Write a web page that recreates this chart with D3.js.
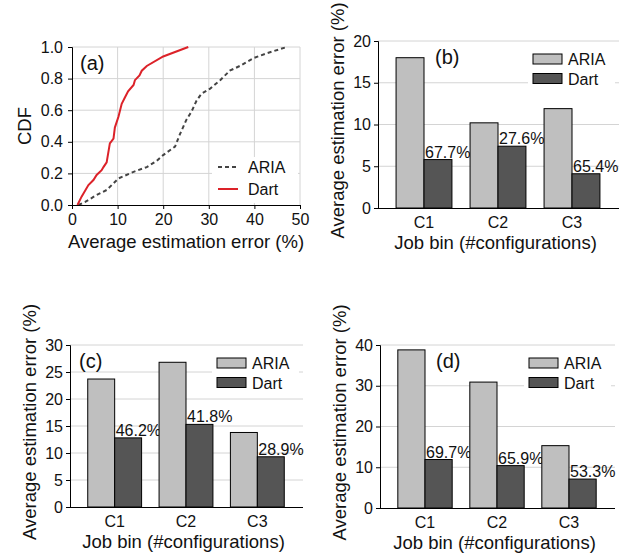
<!DOCTYPE html>
<html>
<head>
<meta charset="utf-8">
<script src="https://cdn.jsdelivr.net/npm/d3@7"></script>
<style>
  body { margin: 0; background: #fff; }
  svg text { font-family: "Liberation Sans", Arial, sans-serif; fill: #111; }
</style>
</head>
<body>
<div id="chart"></div>
<script>
// panel (a): CDF curves, [error %, cumulative fraction]
const ariaCdf = [
  [1.4, 0], [2.9, 0.02], [5.4, 0.063], [7.6, 0.095], [8.7, 0.126], [10.2, 0.168],
  [13.5, 0.21], [16.4, 0.24], [18.6, 0.28], [20, 0.316], [22.6, 0.37], [23.7, 0.45],
  [25.1, 0.54], [26.2, 0.59], [27.3, 0.66], [28.4, 0.705], [30.3, 0.737], [32.5, 0.79],
  [34.6, 0.85], [36.8, 0.88], [39.8, 0.93], [42.7, 0.96], [47.1, 1.0]
];
const dartCdf = [
  [1.2, 0], [2.1, 0.053], [3.6, 0.126], [4.7, 0.158], [5.4, 0.19], [6.5, 0.22],
  [6.9, 0.24], [7.6, 0.27], [8.3, 0.39], [9.1, 0.42], [9.4, 0.49], [10.2, 0.56],
  [10.9, 0.64], [11.6, 0.68], [12.3, 0.72], [13.5, 0.76], [13.8, 0.79], [14.8, 0.82],
  [15.3, 0.85], [16.4, 0.88], [20, 0.94], [25.5, 1.0]
];
const cdfXTicks = [0, 10, 20, 30, 40, 50];
const cdfYTicks = [0, 0.2, 0.4, 0.6, 0.8, 1.0];

// panels (b)-(d): job bins
const bins = ["C1", "C2", "C3"];
const series = ["ARIA", "Dart"];
const ariaB = [18.0, 10.2, 11.9];
const dartB = [5.8, 7.4, 4.1];
const pctB = ["67.7%", "27.6%", "65.4%"];
const ariaC = [23.7, 26.8, 13.8];
const dartC = [12.8, 15.3, 9.3];
const pctC = ["46.2%", "41.8%", "28.9%"];
const ariaD = [38.8, 30.9, 15.3];
const dartD = [11.9, 10.4, 7.1];
const pctD = ["69.7%", "65.9%", "53.3%"];

const svg = d3.select("#chart").append("svg")
    .attr("width", 621)
    .attr("height", 559);

const gridColor = "#d4d4d4";
const colors = { ARIA: "#bfbfbf", Dart: "#555555" };

// ---------- panel (a) ----------
{
  const left = 72, top = 47, w = 228, h = 158;
  const g = svg.append("g").attr("transform", `translate(${left},${top})`);
  const x = d3.scaleLinear().domain([0, 50]).range([0, w]);
  const y = d3.scaleLinear().domain([0, 1]).range([h, 0]);

  // grid
  g.selectAll("line.vg").data(cdfXTicks.slice(1)).enter().append("line")
      .attr("x1", d => x(d)).attr("x2", d => x(d))
      .attr("y1", 0).attr("y2", h)
      .style("stroke", gridColor);
  g.selectAll("line.hg").data(cdfYTicks.slice(1)).enter().append("line")
      .attr("x1", 0).attr("x2", w)
      .attr("y1", d => y(d)).attr("y2", d => y(d))
      .style("stroke", gridColor);

  // legend box hides grid
  g.append("rect").attr("x", w - 88).attr("y", h - 48)
      .attr("width", 86).attr("height", 46).attr("fill", "#fff");

  const line = d3.line().x(d => x(d[0])).y(d => y(d[1]));
  g.append("path").datum(ariaCdf).attr("d", line)
      .attr("fill", "none").attr("stroke", "#444").attr("stroke-width", 2)
      .attr("stroke-dasharray", "4,3");
  g.append("path").datum(dartCdf).attr("d", line)
      .attr("fill", "none").attr("stroke", "#dc2229").attr("stroke-width", 2);

  const xAxis = g.append("g").attr("transform", `translate(0,${h})`)
      .call(d3.axisBottom(x).tickValues(cdfXTicks).tickSize(4).tickPadding(5).tickFormat(d3.format("d")));
  const yAxis = g.append("g")
      .call(d3.axisLeft(y).tickValues(cdfYTicks).tickSize(4).tickPadding(5).tickFormat(d3.format(".1f")));
  [xAxis, yAxis].forEach(a => {
    a.select(".domain").attr("stroke", "#000");
    a.selectAll(".tick line").attr("stroke", "#000");
    a.selectAll("text").style("font-size", "16px").attr("fill", "#111");
  });

  g.append("text").attr("x", 8).attr("y", 23).style("font-size", "20px").text("(a)");

  // legend
  const lg = g.append("g").attr("transform", `translate(${w - 82},${h - 38})`);
  lg.append("line").attr("x1", 0).attr("x2", 20).attr("y1", 0).attr("y2", 0)
      .attr("stroke", "#444").attr("stroke-width", 2).attr("stroke-dasharray", "4,3");
  lg.append("text").attr("x", 30).attr("y", 6).style("font-size", "16px").text("ARIA");
  lg.append("line").attr("x1", 0).attr("x2", 20).attr("y1", 22).attr("y2", 22)
      .attr("stroke", "#dc2229").attr("stroke-width", 2);
  lg.append("text").attr("x", 30).attr("y", 28).style("font-size", "16px").text("Dart");

  svg.append("text").attr("transform", `translate(31,${top + h / 2}) rotate(-90)`)
      .attr("text-anchor", "middle").style("font-size", "18.5px").text("CDF");
  svg.append("text").attr("x", left + w / 2 - 0).attr("y", 248)
      .attr("text-anchor", "middle").style("font-size", "18.5px")
      .text("Average estimation error (%)");
}

// ---------- bar panels ----------
function barPanel(opt) {
  const { left, top, w, h, ymax, step, aria, dart, pct, tag, tagX, yLabelX } = opt;
  const g = svg.append("g").attr("transform", `translate(${left},${top})`);
  const x = d3.scaleBand().domain(bins).range([9, w - 10]).paddingInner(0.245).paddingOuter(0.1225);
  const xs = d3.scaleBand().domain(series).range([0, x.bandwidth()]);
  const y = d3.scaleLinear().domain([0, ymax]).range([h, 0]);
  const yTicks = d3.range(0, ymax + 0.001, step);

  g.selectAll("line.hg").data(yTicks.slice(1)).enter().append("line")
      .attr("x1", 0).attr("x2", w)
      .attr("y1", d => y(d)).attr("y2", d => y(d))
      .style("stroke", gridColor);

  // legend box hides grid
  g.append("rect").attr("x", w - 91).attr("y", 8)
      .attr("width", 87).attr("height", 40).attr("fill", "#fff");

  const rows = bins.map((b, i) => ({ bin: b, ARIA: aria[i], Dart: dart[i], pct: pct[i] }));
  const grp = g.selectAll("g.bin").data(rows).enter().append("g")
      .attr("transform", d => `translate(${x(d.bin)},0)`);
  grp.selectAll("rect").data(d => series.map(s => ({ s, v: d[s] }))).enter().append("rect")
      .attr("x", d => xs(d.s))
      .attr("y", d => y(d.v))
      .attr("width", xs.bandwidth())
      .attr("height", d => h - y(d.v))
      .attr("fill", d => colors[d.s])
      .attr("stroke", "#000").attr("stroke-width", 1);
  grp.append("text")
      .attr("x", xs("Dart") + 1)
      .attr("y", d => y(d.Dart) - 2)
      .style("font-size", "16px")
      .text(d => d.pct);

  const xAxis = g.append("g").attr("transform", `translate(0,${h})`)
      .call(d3.axisBottom(x).tickSize(0).tickPadding(9));
  xAxis.select(".domain").attr("d", `M0,0.5H${w}`).attr("stroke", "#000");
  const yAxis = g.append("g")
      .call(d3.axisLeft(y).tickValues(yTicks).tickSize(4).tickPadding(3).tickFormat(d3.format("d")));
  yAxis.select(".domain").attr("stroke", "#000");
  yAxis.selectAll(".tick line").attr("stroke", "#000");
  [xAxis, yAxis].forEach(a => a.selectAll("text").style("font-size", "16px").attr("fill", "#111"));

  g.append("text").attr("x", tagX).attr("y", 23).style("font-size", "20px").text(tag);

  const lg = g.append("g").attr("transform", `translate(${w - 86},13)`);
  series.forEach((s, i) => {
    lg.append("rect").attr("x", 0).attr("y", i * 19.5).attr("width", 29).attr("height", 10)
        .attr("fill", colors[s]).attr("stroke", "#000").attr("stroke-width", 1);
    lg.append("text").attr("x", 35).attr("y", i * 19.5 + 11).style("font-size", "16px").text(s);
  });

  svg.append("text").attr("transform", `translate(${yLabelX},${top + h / 2 - 4}) rotate(-90)`)
      .attr("text-anchor", "middle").style("font-size", "18.5px")
      .text("Average estimation error (%)");
  svg.append("text").attr("x", left + w / 2 - 3).attr("y", top + h + 41)
      .attr("text-anchor", "middle").style("font-size", "18.5px")
      .text("Job bin (#configurations)");
}

barPanel({ left: 378, top: 41, w: 241, h: 167, ymax: 20, step: 5,
  aria: ariaB, dart: dartB, pct: pctB, tag: "(b)", tagX: 57, yLabelX: 344 });
barPanel({ left: 70, top: 345, w: 233, h: 162, ymax: 30, step: 5,
  aria: ariaC, dart: dartC, pct: pctC, tag: "(c)", tagX: 9, yLabelX: 36 });
barPanel({ left: 380, top: 345, w: 235, h: 163, ymax: 40, step: 10,
  aria: ariaD, dart: dartD, pct: pctD, tag: "(d)", tagX: 56, yLabelX: 346 });
</script>
</body>
</html>
